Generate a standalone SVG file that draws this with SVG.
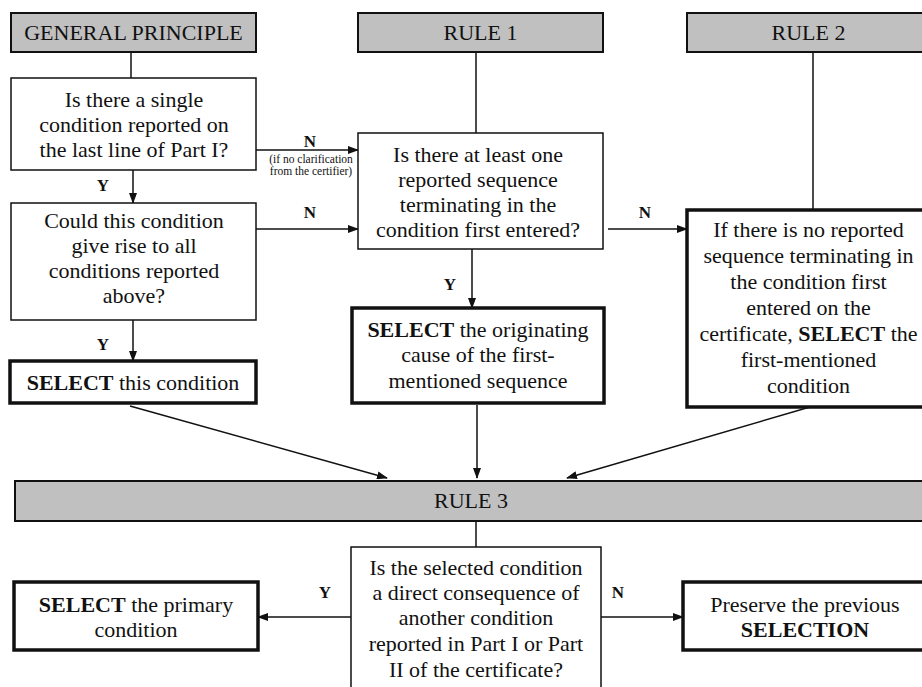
<svg xmlns="http://www.w3.org/2000/svg" width="922" height="687" viewBox="0 0 922 687">
<style>
text{font-family:"Liberation Serif","Times New Roman",serif;fill:#111;text-anchor:middle}
.t{font-size:22px}
.lbl{font-size:17px;font-weight:bold}
.small{font-size:11.5px}
.hdr{fill:#c0c0c0;stroke:#111;stroke-width:2}
.q{fill:#fff;stroke:#111;stroke-width:1.5}
.s{fill:#fff;stroke:#111;stroke-width:3.5}
.c{stroke:#111;stroke-width:1.5;fill:none}
.a{marker-end:url(#ah)}
</style>
<defs>
<marker id="ah" markerUnits="userSpaceOnUse" markerWidth="11" markerHeight="8" refX="10" refY="4" orient="auto">
<path d="M0,0 L11,4 L0,8 z" fill="#111"/>
</marker>
</defs>
<rect width="922" height="687" fill="#fff"/>
<g id="connectors">
<line class="c" x1="131" y1="52" x2="131" y2="78"/>
<line class="c" x1="476" y1="52" x2="476" y2="133"/>
<line class="c" x1="813" y1="52" x2="813" y2="210"/>
<line class="c a" x1="256" y1="150" x2="358" y2="150"/>
<line class="c a" x1="133" y1="170" x2="133" y2="203"/>
<line class="c a" x1="256" y1="229" x2="358" y2="229"/>
<line class="c a" x1="608" y1="229" x2="687" y2="229"/>
<line class="c a" x1="133" y1="320" x2="133" y2="361"/>
<line class="c a" x1="472" y1="249" x2="472" y2="308"/>
<line class="c a" x1="130" y1="406" x2="387" y2="478"/>
<line class="c a" x1="477" y1="405" x2="477" y2="478"/>
<line class="c a" x1="810" y1="407" x2="567" y2="478"/>
<line class="c" x1="476" y1="521" x2="476" y2="547"/>
<line class="c a" x1="351" y1="617" x2="258" y2="617"/>
<line class="c a" x1="601" y1="617" x2="683" y2="617"/>
<text class="lbl" x="310" y="147">N</text>
<text class="small" x="311" y="163">(if no clarification</text>
<text class="small" x="311" y="175">from the certifier)</text>
<text class="lbl" x="103" y="191">Y</text>
<text class="lbl" x="310" y="218">N</text>
<text class="lbl" x="645" y="218">N</text>
<text class="lbl" x="103" y="350">Y</text>
<text class="lbl" x="450" y="290">Y</text>
<text class="lbl" x="325" y="598">Y</text>
<text class="lbl" x="618" y="598">N</text>
</g>
<g id="general-principle">
<rect class="hdr" x="11" y="13" width="245" height="39"/>
<text class="t" x="133.5" y="40">GENERAL PRINCIPLE</text>
</g>
<g id="rule1">
<rect class="hdr" x="358" y="13" width="245" height="39"/>
<text class="t" x="480.5" y="40">RULE 1</text>
</g>
<g id="rule2">
<rect class="hdr" x="687" y="13" width="245" height="39"/>
<text class="t" x="808.5" y="40">RULE 2</text>
</g>
<g id="q-single">
<rect class="q" x="11" y="78" width="245" height="92"/>
<text class="t" x="134" y="107">Is there a single</text>
<text class="t" x="134" y="132">condition reported on</text>
<text class="t" x="134" y="157">the last line of Part I?</text>
</g>
<g id="q-give-rise">
<rect class="q" x="11" y="203" width="245" height="117"/>
<text class="t" x="134" y="228">Could this condition</text>
<text class="t" x="134" y="253">give rise to all</text>
<text class="t" x="134" y="278">conditions reported</text>
<text class="t" x="134" y="303">above?</text>
</g>
<g id="select-this">
<rect class="s" x="10" y="361" width="246" height="42"/>
<text class="t" x="133" y="390"><tspan font-weight="bold">SELECT</tspan> this condition</text>
</g>
<g id="q-sequence">
<rect class="q" x="358" y="133" width="245" height="116"/>
<text class="t" x="478" y="162">Is there at least one</text>
<text class="t" x="478" y="187">reported sequence</text>
<text class="t" x="478" y="212">terminating in the</text>
<text class="t" x="478" y="237">condition first entered?</text>
</g>
<g id="select-originating">
<rect class="s" x="352" y="308" width="252" height="95"/>
<text class="t" x="478" y="337"><tspan font-weight="bold">SELECT</tspan> the originating</text>
<text class="t" x="478" y="362">cause of the first-</text>
<text class="t" x="478" y="388">mentioned sequence</text>
</g>
<g id="rule2-box">
<rect class="s" x="687" y="210" width="245" height="197"/>
<text class="t" x="808.5" y="237">If there is no reported</text>
<text class="t" x="808.5" y="263">sequence terminating in</text>
<text class="t" x="808.5" y="289">the condition first</text>
<text class="t" x="808.5" y="315">entered on the</text>
<text class="t" x="808.5" y="341">certificate, <tspan font-weight="bold">SELECT</tspan> the</text>
<text class="t" x="808.5" y="367">first-mentioned</text>
<text class="t" x="808.5" y="393">condition</text>
</g>
<g id="rule3">
<rect class="hdr" x="15" y="481" width="920" height="40"/>
<text class="t" x="471" y="508">RULE 3</text>
</g>
<g id="q-direct">
<rect class="q" x="351" y="547" width="250" height="160"/>
<text class="t" x="476" y="575">Is the selected condition</text>
<text class="t" x="476" y="600">a direct consequence of</text>
<text class="t" x="476" y="625">another condition</text>
<text class="t" x="476" y="651">reported in Part I or Part</text>
<text class="t" x="476" y="677">II of the certificate?</text>
</g>
<g id="select-primary">
<rect class="s" x="14" y="582" width="244" height="68"/>
<text class="t" x="136" y="612"><tspan font-weight="bold">SELECT</tspan> the primary</text>
<text class="t" x="136" y="637">condition</text>
</g>
<g id="preserve">
<rect class="s" x="683" y="582" width="245" height="68"/>
<text class="t" x="805" y="612">Preserve the previous</text>
<text class="t" x="805" y="637" font-weight="bold">SELECTION</text>
</g>
</svg>
